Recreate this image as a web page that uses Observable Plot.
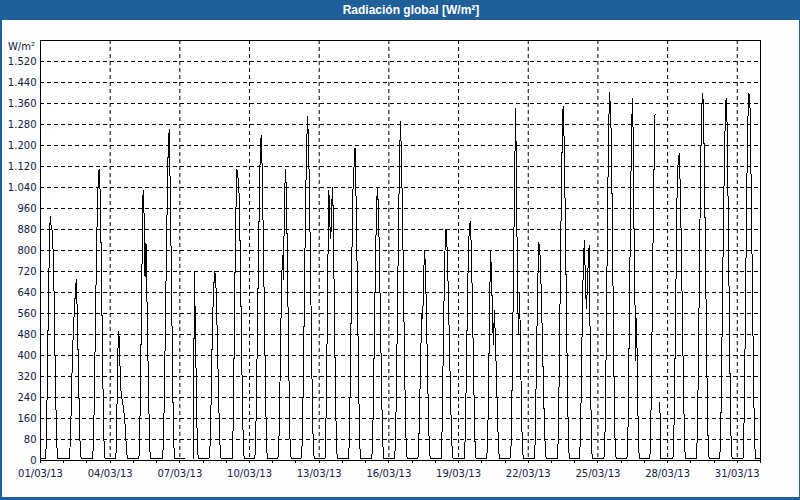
<!DOCTYPE html>
<html>
<head>
<meta charset="utf-8">
<script src="https://cdn.jsdelivr.net/npm/d3@7"></script>
<script src="https://cdn.jsdelivr.net/npm/@observablehq/plot@0.6"></script>
<style>
  html, body { margin: 0; padding: 0; background: #fcfdfc; }
  #wrap { position: relative; width: 800px; height: 500px; overflow: hidden; background: #fcfdfc; }
  #title { position: absolute; left: 0; top: 0; width: 800px; height: 20px; background: #1f6098; }
  #title span { position: absolute; left: 411px; top: 3px; transform: translateX(-50%); white-space: nowrap;
    color: #ffffff; font: bold 12px "Liberation Sans", Arial, sans-serif; }
  #chart { position: absolute; left: 0; top: 20px; }
  #unit { position: absolute; right: 765px; top: 41px; white-space: nowrap;
    font: 10px "DejaVu Sans", sans-serif; color: #14204a; }
  .bd { position: absolute; background: #1f6098; }
  #chart svg path { shape-rendering: crispEdges; }
</style>
</head>
<body>
<div id="wrap">
  <div id="title"><span>Radiación global [W/m²]</span></div>
  <div id="chart"></div>
  <div id="unit">W/m²</div>
  <div class="bd" style="left:0;top:20px;width:2px;height:480px"></div>
  <div class="bd" style="right:0;top:20px;width:1px;height:480px"></div>
  <div class="bd" style="left:0;bottom:0;width:800px;height:3px"></div>
</div>
<script>
// ---- Data (W/m²) ----
// Daylight hourly values (UTC hours 6..18) for each day of March 2013
const dayHours = [6, 7, 8, 9, 10, 11, 12, 13, 14, 15, 16, 17, 18];
const nightLevel = 6;
const d01 = [60, 290, 560, 780, 930, 890, 875, 800, 640, 400, 200, 50, 6];
const d02 = [10, 90, 240, 400, 500, 570, 640, 690, 560, 380, 200, 50, 6];
const d03 = [10, 110, 330, 580, 820, 1000, 1100, 1110, 960, 720, 430, 170, 20];
const d04 = [20, 200, 420, 490, 380, 270, 240, 220, 190, 160, 100, 30, 6];
const d05 = [20, 200, 480, 780, 1030, 940, 700, 830, 620, 400, 200, 40, 6];
const d06 = [6, 60, 250, 500, 760, 1000, 1200, 1260, 1050, 780, 480, 200, 40];
const d07 = [null, null, null, null, null, null, null, null, 6, 720, 520, 280, 70];
const d08 = [6, 30, 170, 380, 560, 660, 720, 700, 580, 420, 250, 100, 15];
const d09 = [6, 120, 400, 720, 960, 1110, 1080, 1040, 880, 640, 380, 150, 20];
const d10 = [30, 200, 450, 720, 960, 1160, 1240, 1120, 900, 650, 400, 170, 30];
const d11 = [20, 180, 420, 650, 780, 690, 950, 1110, 1040, 800, 520, 250, 50];
const d12 = [20, 170, 420, 720, 990, 1200, 1310, 1200, 1000, 740, 460, 200, 40];
const d13 = [10, 150, 420, 760, 1030, 900, 845, 980, 1040, 780, 480, 210, 40];
const d14 = [6, 60, 280, 560, 840, 1050, 1120, 1190, 1020, 780, 500, 240, 50];
const d15 = [6, 40, 230, 480, 720, 920, 1040, 980, 820, 600, 380, 170, 40];
const d16 = [6, 100, 330, 620, 900, 1150, 1290, 1150, 950, 700, 430, 190, 40];
const d17 = [6, 80, 240, 420, 560, 540, 720, 800, 700, 520, 330, 150, 30];
const d18 = [6, 120, 380, 620, 800, 880, 820, 700, 540, 370, 200, 70, 10];
const d19 = [6, 100, 320, 560, 760, 880, 910, 830, 660, 450, 240, 70, 10];
const d20 = [60, 280, 560, 800, 720, 560, 440, 570, 470, 340, 200, 80, 10];
const d21 = [20, 200, 480, 800, 1100, 1340, 1000, 620, 480, 640, 430, 200, 40];
const d22 = [6, 60, 260, 500, 700, 830, 800, 700, 560, 400, 240, 100, 20];
const d23 = [6, 80, 330, 650, 950, 1200, 1350, 1230, 1000, 720, 430, 180, 30];
const d24 = [100, 320, 580, 760, 840, 700, 580, 650, 760, 820, 450, 150, 10];
const d25 = [6, 30, 260, 600, 950, 1250, 1400, 1340, 1200, 880, 520, 200, 30];
const d26 = [6, 100, 380, 720, 1050, 1300, 1380, 960, 700, 380, 540, 260, 50];
const d27 = [30, 220, 520, 850, 1120, 1320, null, null, null, null, 220, 6, 6];
const d28 = [20, 200, 480, 780, 1080, 1140, 1170, 1050, 860, 620, 380, 170, 30];
const d29 = [10, 150, 430, 760, 1080, 1300, 1400, 1360, 1120, 830, 520, 240, 50];
const d30 = [10, 130, 400, 700, 980, 1200, 1370, 1380, 1150, 820, 480, 180, 20];
const d31 = [10, 150, 430, 760, 1080, 1300, 1400, 1380, 1150, 860, 550, 260, 60];
const dias = [d01, d02, d03, d04, d05, d06, d07, d08, d09, d10, d11, d12, d13, d14, d15, d16,
              d17, d18, d19, d20, d21, d22, d23, d24, d25, d26, d27, d28, d29, d30, d31];

const xTickLabels = ["01/03/13", "04/03/13", "07/03/13", "10/03/13", "13/03/13", "16/03/13",
                     "19/03/13", "22/03/13", "25/03/13", "28/03/13", "31/03/13"];
const yTicks = [0, 80, 160, 240, 320, 400, 480, 560, 640, 720, 800, 880, 960, 1040, 1120,
                1200, 1280, 1360, 1440, 1520];
const yMax = 1600;

// ---- Build table ----
const HOUR = 36e5, DAY = 864e5;
const t0 = Date.UTC(2013, 2, 1);
const tEnd = Date.UTC(2013, 3, 1);
const rows = [{t: new Date(t0), v: nightLevel}];
dias.forEach((vals, d) => {
  const base = t0 + d * DAY;
  rows.push({t: new Date(base + 5 * HOUR), v: nightLevel});
  dayHours.forEach((h, i) => rows.push({t: new Date(base + h * HOUR), v: vals[i] == null ? NaN : vals[i]}));
  rows.push({t: new Date(base + 19 * HOUR), v: nightLevel});
});
rows.push({t: new Date(t0 + 30 * DAY + 23 * HOUR), v: nightLevel});

const parse = d3.utcParse("%d/%m/%y");
const labelDates = xTickLabels.map(parse);
const dayTicks = d3.utcDay.range(new Date(t0), new Date(tEnd + 1));
const es = d3.formatLocale({decimal: ",", thousands: ".", grouping: [3], currency: ["", " €"]});
const fmtY = es.format(",d");
const fmtX = d3.utcFormat("%d/%m/%y");
const gridYTicks = yTicks.filter(v => v > 0);

const chart = Plot.plot({
  width: 800,
  height: 480,
  marginTop: 20,
  marginBottom: 40,
  marginLeft: 40,
  marginRight: 40,
  style: {background: "transparent", fontFamily: "DejaVu Sans, sans-serif", fontSize: "10px", color: "#14204a"},
  x: {type: "utc", domain: [new Date(t0), new Date(tEnd)]},
  y: {domain: [0, yMax]},
  marks: [
    Plot.frame({fill: "#ffffff", stroke: null}),
    Plot.gridY(gridYTicks, {stroke: "#000", strokeOpacity: 1, strokeDasharray: "4,3", strokeWidth: 1}),
    Plot.gridX(labelDates, {stroke: "#000", strokeOpacity: 1, strokeDasharray: "4,3", strokeWidth: 1}),
    Plot.line(rows, {x: "t", y: "v", stroke: "#000", strokeWidth: 1}),
    Plot.axisY(yTicks, {tickSize: 0, tickPadding: 4, tickFormat: fmtY, label: null}),
    Plot.axisX(dayTicks, {tickSize: 3, tickFormat: () => "", label: null, stroke: "#000"}),
    Plot.axisX(labelDates, {tickSize: 0, tickPadding: 9, tickFormat: fmtX, label: null}),
    Plot.frame({stroke: "#000", strokeWidth: 1})
  ]
});
document.getElementById("chart").appendChild(chart);
</script>
</body>
</html>
